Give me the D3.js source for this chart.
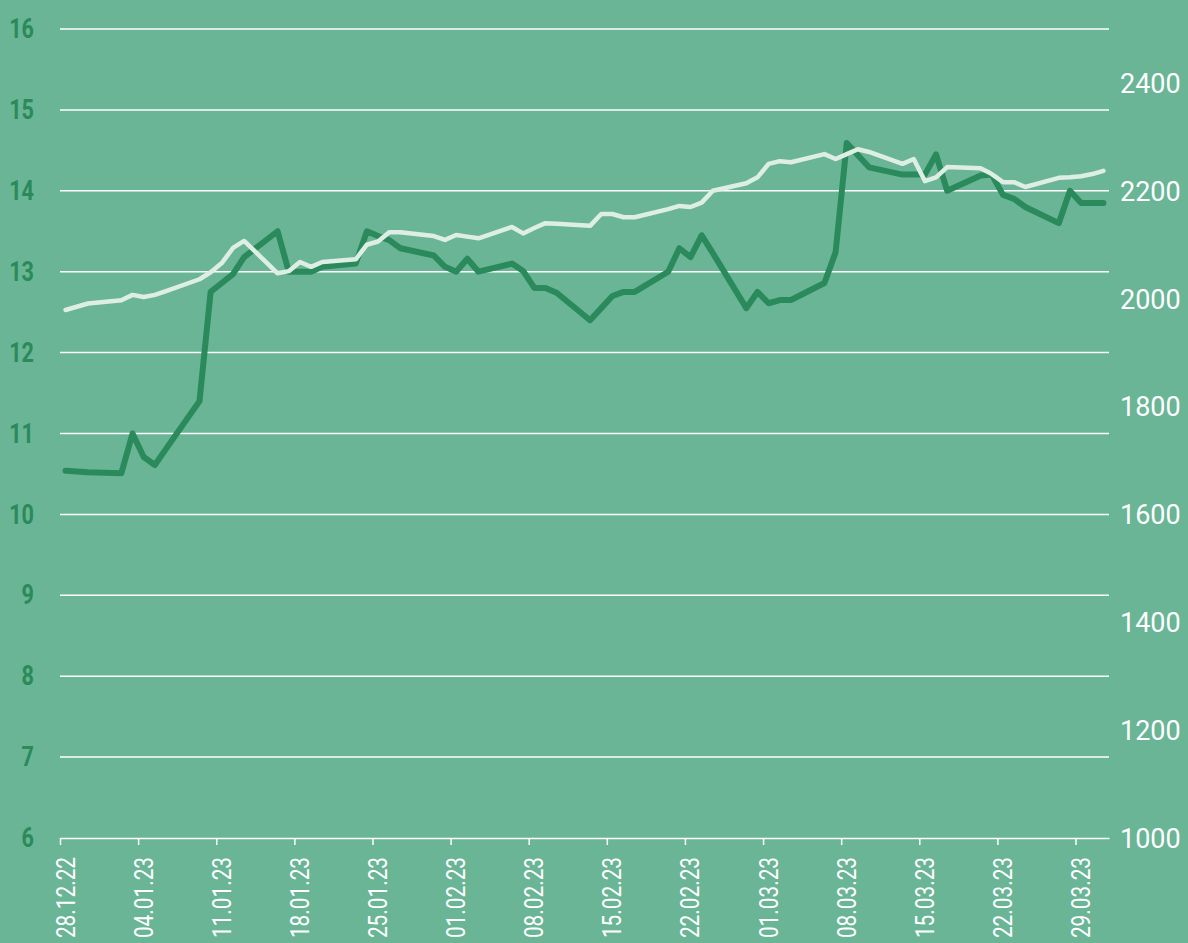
<!DOCTYPE html>
<html>
<head>
<meta charset="utf-8">
<script src="https://cdn.jsdelivr.net/npm/d3@7"></script>
<style>
  body { margin: 0; background: #69b596; }
  svg { display: block; }
</style>
</head>
<body>
<svg></svg>
<script>
// trading days shown in the chart
const dates = [
  '2022-12-28','2022-12-29','2022-12-30',
  '2023-01-02','2023-01-03','2023-01-04','2023-01-05','2023-01-06',
  '2023-01-09','2023-01-10','2023-01-11','2023-01-12','2023-01-13',
  '2023-01-16','2023-01-17','2023-01-18','2023-01-19','2023-01-20',
  '2023-01-23','2023-01-24','2023-01-25','2023-01-26','2023-01-27',
  '2023-01-30','2023-01-31','2023-02-01','2023-02-02','2023-02-03',
  '2023-02-06','2023-02-07','2023-02-08','2023-02-09','2023-02-10',
  '2023-02-13','2023-02-14','2023-02-15','2023-02-16','2023-02-17',
  '2023-02-20','2023-02-21','2023-02-22','2023-02-23','2023-02-24',
  '2023-02-27','2023-02-28','2023-03-01','2023-03-02','2023-03-03',
  '2023-03-06','2023-03-07','2023-03-08','2023-03-09','2023-03-10',
  '2023-03-13','2023-03-14','2023-03-15','2023-03-16','2023-03-17',
  '2023-03-20','2023-03-21','2023-03-22','2023-03-23','2023-03-24',
  '2023-03-27','2023-03-28','2023-03-29','2023-03-30','2023-03-31'
];

// dark line, left axis
const leftValues = [
  10.54, 10.53, 10.52,
  10.51, 11.0, 10.71, 10.61, 10.81,
  11.40, 12.75, 12.86, 12.97, 13.18,
  13.50, 13.0, 13.0, 13.0, 13.06,
  13.10, 13.50, 13.44, 13.39, 13.29,
  13.20, 13.06, 13.0, 13.16, 13.0,
  13.10, 13.01, 12.80, 12.80, 12.74,
  12.40, 12.55, 12.70, 12.75, 12.75,
  13.0, 13.29, 13.18, 13.45, 13.23,
  12.55, 12.75, 12.61, 12.65, 12.65,
  12.86, 13.24, 14.59, 14.44, 14.29,
  14.20, 14.20, 14.20, 14.45, 14.0,
  14.19, 14.20, 13.95, 13.90, 13.80,
  13.60, 14.0, 13.85, 13.85, 13.85
];

// light line, right axis
const rightValues = [
  1979, 1985, 1991,
  1997, 2007, 2003, 2007, 2014,
  2036, 2049, 2066, 2094, 2107,
  2047, 2051, 2068, 2059, 2068,
  2073, 2100, 2106, 2123, 2123,
  2116, 2109, 2118, 2115, 2112,
  2133, 2121, 2131, 2140, 2139,
  2135, 2157, 2157, 2151, 2151,
  2166, 2172, 2170, 2178, 2200,
  2214, 2225, 2250, 2255, 2253,
  2268, 2259, 2268, 2277, 2272,
  2250, 2259, 2218, 2225, 2244,
  2242, 2231, 2216, 2216, 2207,
  2224, 2225, 2227, 2231, 2237
];

const leftTicks = [6, 7, 8, 9, 10, 11, 12, 13, 14, 15, 16];
const rightTicks = [1000, 1200, 1400, 1600, 1800, 2000, 2200, 2400];

const WIDTH = 1188;
const HEIGHT = 943;
const MARGIN = { top: 29, right: 79, bottom: 105, left: 60 };
const NARROW = 0.8; // squeeze factor to mimic the condensed face

const parse = d3.timeParse('%Y-%m-%d');
const fmt = d3.timeFormat('%d.%m.%y');

// points sit at midday of their trading day
const rows = dates.map((d, i) => ({
  date: d3.timeHour.offset(parse(d), 12),
  left: leftValues[i],
  right: rightValues[i]
}));

const x = d3.scaleTime()
  .domain([parse('2022-12-28'), parse('2023-04-01')])
  .range([MARGIN.left, WIDTH - MARGIN.right]);
const yLeft = d3.scaleLinear().domain([6, 16]).range([HEIGHT - MARGIN.bottom, MARGIN.top]);
const yRight = d3.scaleLinear().domain([1000, 2500]).range([HEIGHT - MARGIN.bottom, MARGIN.top]);

const svg = d3.select('svg')
  .attr('width', WIDTH)
  .attr('height', HEIGHT);

svg.append('rect')
  .attr('width', WIDTH)
  .attr('height', HEIGHT)
  .attr('fill', '#69b596');

// horizontal grid
svg.append('g')
  .selectAll('line')
  .data(leftTicks.slice(1))
  .enter()
  .append('line')
  .attr('x1', MARGIN.left)
  .attr('x2', WIDTH - MARGIN.right)
  .attr('y1', d => yLeft(d))
  .attr('y2', d => yLeft(d))
  .attr('stroke', '#ffffff')
  .attr('stroke-width', 1.5);

// left axis labels
const leftAxis = svg.append('g')
  .attr('transform', `translate(${MARGIN.left}, 0)`)
  .call(d3.axisLeft(yLeft).tickValues(leftTicks).tickSize(0));
leftAxis.select('.domain').remove();
leftAxis.selectAll('text')
  .attr('fill', '#2a8a5a')
  .attr('font-family', 'Roboto, sans-serif')
  .attr('font-weight', 'bold')
  .attr('font-size', 27)
  .attr('x', -26 / NARROW)
  .attr('dy', '0.32em')
  .attr('transform', `scale(${NARROW}, 1)`);

// right axis labels
const rightAxis = svg.append('g')
  .attr('transform', `translate(${WIDTH - MARGIN.right}, 0)`)
  .call(d3.axisRight(yRight).tickValues(rightTicks).tickFormat(d3.format('d')).tickSize(0).tickPadding(11));
rightAxis.select('.domain').remove();
rightAxis.selectAll('text')
  .attr('fill', '#ffffff')
  .attr('font-family', 'Roboto, sans-serif')
  .attr('font-size', 27)
  .attr('dy', '0.35em');

// x axis
const xTicks = d3.timeWednesday.range(parse('2022-12-28'), parse('2023-03-30'));
const xAxis = svg.append('g')
  .attr('transform', `translate(0, ${HEIGHT - MARGIN.bottom})`)
  .call(d3.axisBottom(x).tickValues(xTicks).tickFormat(fmt).tickSize(7).tickSizeOuter(0));
xAxis.select('.domain').attr('stroke', '#ffffff').attr('stroke-width', 1.5);
xAxis.selectAll('.tick line').attr('stroke', '#ffffff').attr('stroke-width', 1.5);
xAxis.selectAll('text')
  .attr('fill', '#ffffff')
  .attr('font-family', 'Roboto, sans-serif')
  .attr('font-size', 26)
  .attr('text-anchor', 'end')
  .attr('transform', `rotate(-90) scale(${NARROW}, 1)`)
  .attr('x', -19 / NARROW)
  .attr('y', 0)
  .attr('dy', 14)
  .attr('dx', 0);

// lines
const lineLeft = d3.line().x(d => x(d.date)).y(d => yLeft(d.left));
const lineRight = d3.line().x(d => x(d.date)).y(d => yRight(d.right));

svg.append('path')
  .datum(rows)
  .attr('d', lineLeft)
  .attr('fill', 'none')
  .attr('stroke', '#2b8a5c')
  .attr('stroke-width', 6)
  .attr('stroke-linejoin', 'round')
  .attr('stroke-linecap', 'round');

svg.append('path')
  .datum(rows)
  .attr('d', lineRight)
  .attr('fill', 'none')
  .attr('stroke', '#dfeee5')
  .attr('stroke-width', 4.5)
  .attr('stroke-linejoin', 'round')
  .attr('stroke-linecap', 'round');
</script>
</body>
</html>
